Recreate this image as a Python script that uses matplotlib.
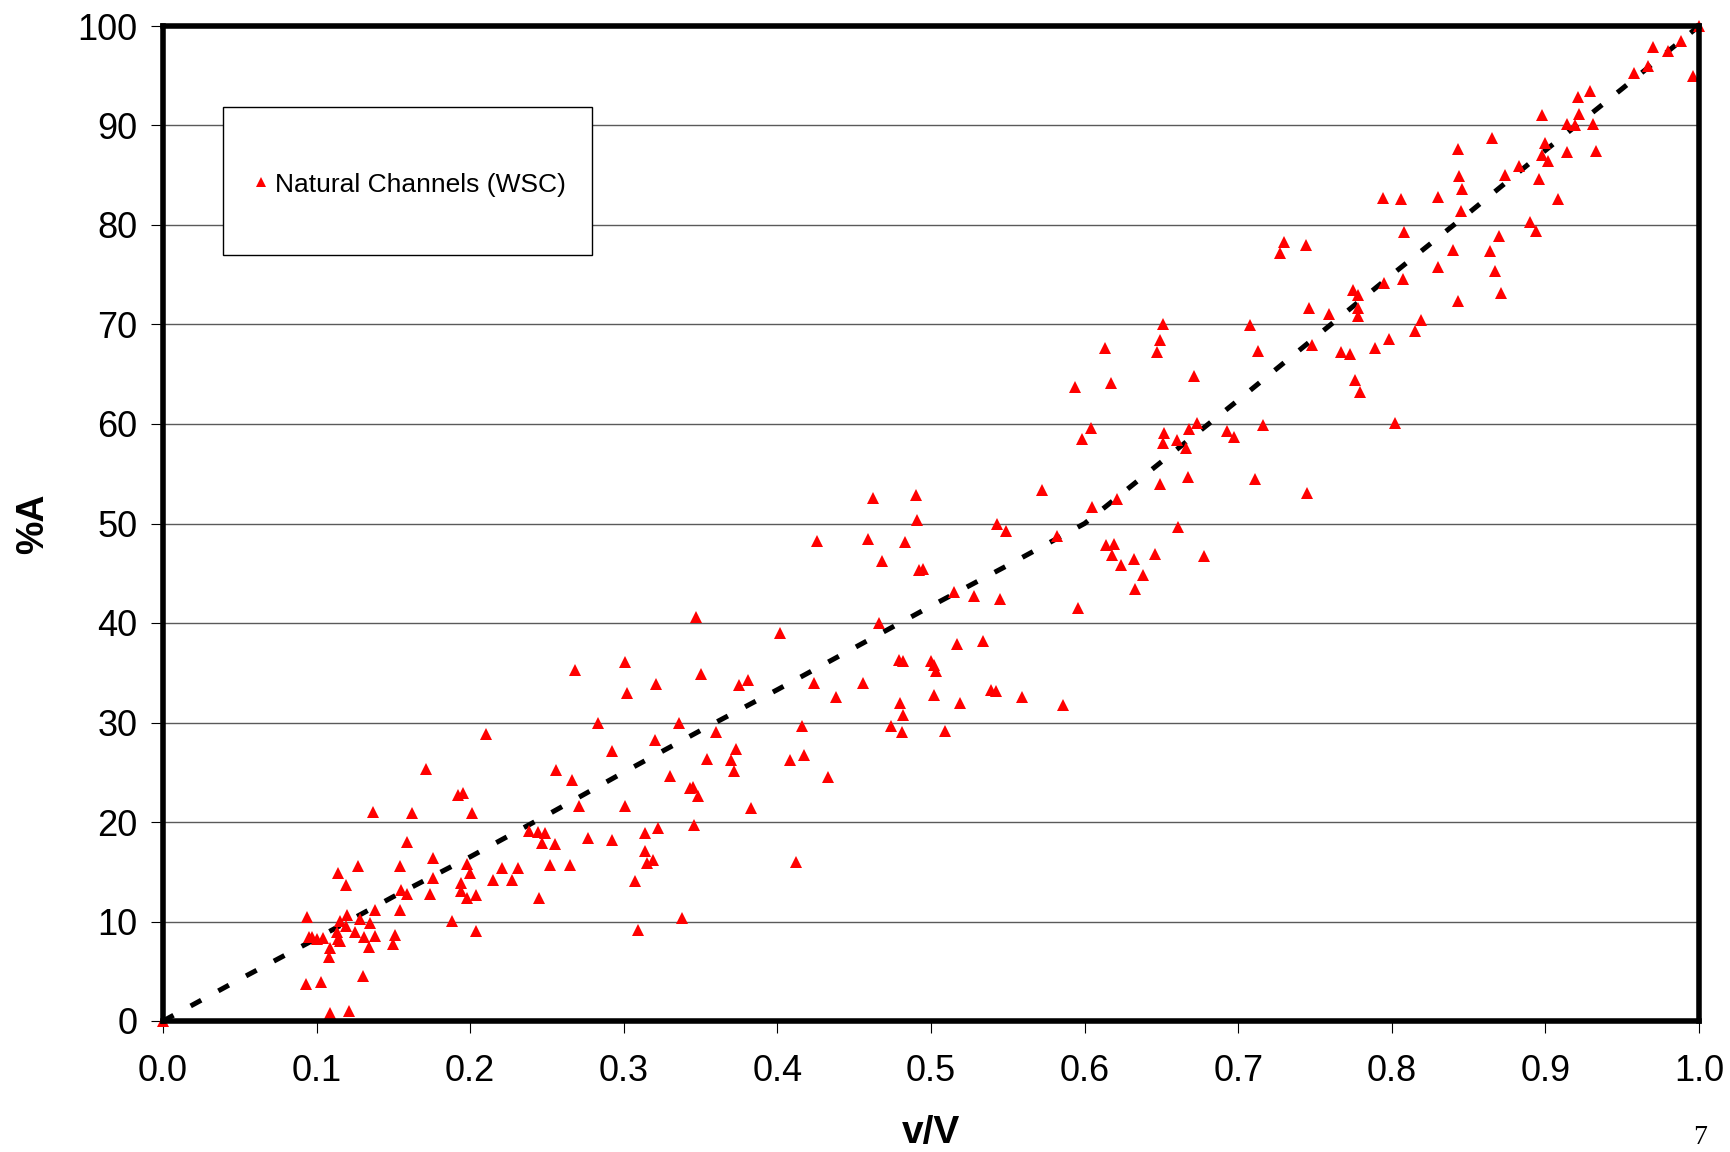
#Scatter of %A against v/V for natural channels (WSC) with the dashed trend curve.

import numpy as np
import matplotlib
matplotlib.use('Agg')
import matplotlib.pyplot as plt
from matplotlib.patches import Rectangle

plt.rcParams['font.family'] = ['Liberation Sans', 'DejaVu Sans']

# measured points (v/V, %A)
v_ratio = [
    0.0, 0.137, 0.162, 0.159, 0.127, 0.114, 0.154, 0.119, 0.155, 0.159,
    0.138, 0.154, 0.120, 0.094, 0.115, 0.128, 0.135, 0.119, 0.125, 0.113,
    0.095, 0.097, 0.100, 0.104, 0.114, 0.131, 0.138, 0.151, 0.150, 0.134,
    0.115, 0.109, 0.108, 0.130, 0.093, 0.103, 0.109, 0.121,
    0.268, 0.283, 0.292, 0.210, 0.171, 0.256, 0.266, 0.195, 0.192, 0.271,
    0.201, 0.238, 0.244, 0.249, 0.247, 0.255, 0.277, 0.292, 0.176, 0.198,
    0.200, 0.221, 0.231, 0.252, 0.265, 0.176, 0.194, 0.215, 0.227, 0.174,
    0.194, 0.198, 0.204, 0.245, 0.188, 0.204,
    0.347, 0.402, 0.301, 0.350, 0.321, 0.375, 0.381, 0.424, 0.302, 0.336,
    0.416, 0.360, 0.320, 0.373, 0.354, 0.370, 0.408, 0.417, 0.372, 0.330,
    0.343, 0.345, 0.348, 0.301, 0.383, 0.346, 0.322, 0.314, 0.314, 0.319,
    0.315, 0.412, 0.307, 0.338, 0.309,
    0.462, 0.490, 0.491, 0.543, 0.426, 0.459, 0.483, 0.468, 0.492, 0.495,
    0.515, 0.528, 0.545, 0.466, 0.517, 0.534, 0.479, 0.482, 0.500, 0.502,
    0.503, 0.456, 0.539, 0.542, 0.438, 0.480, 0.502, 0.519, 0.482, 0.474,
    0.481, 0.509, 0.433,
    0.572, 0.549, 0.582, 0.596, 0.559, 0.586,
    0.651, 0.708, 0.649, 0.647, 0.613, 0.713, 0.671, 0.617, 0.594, 0.604,
    0.598, 0.652, 0.651, 0.660, 0.668, 0.673, 0.666, 0.693, 0.697, 0.716,
    0.667, 0.649, 0.711, 0.621, 0.605, 0.661, 0.614, 0.619, 0.618, 0.632,
    0.646, 0.678, 0.624, 0.638, 0.633,
    0.730, 0.727, 0.744, 0.746, 0.759, 0.775, 0.778, 0.778, 0.778, 0.795,
    0.748, 0.767, 0.773, 0.789, 0.798, 0.776, 0.779, 0.802, 0.745,
    0.843, 0.844, 0.846, 0.845, 0.794, 0.806, 0.830, 0.874, 0.883, 0.898,
    0.902, 0.896, 0.908, 0.808, 0.890, 0.894, 0.870, 0.840, 0.864, 0.830,
    0.867, 0.807, 0.871, 0.843, 0.819, 0.815, 0.865,
    1.0, 0.988, 0.980, 0.970, 0.967, 0.958, 0.996, 0.921, 0.929, 0.898,
    0.922, 0.914, 0.919, 0.931, 0.900, 0.914, 0.933,
]
pct_area = [
    0.0, 21.0, 20.9, 18.0, 15.6, 14.9, 15.6, 13.7, 13.2, 12.8,
    11.2, 11.2, 10.7, 10.5, 10.1, 10.3, 9.8, 9.5, 8.9, 8.9,
    8.4, 8.4, 8.2, 8.3, 8.2, 8.4, 8.5, 8.6, 7.7, 7.4,
    8.0, 7.3, 6.4, 4.5, 3.7, 3.9, 0.8, 1.0,
    35.3, 30.0, 27.1, 28.8, 25.3, 25.2, 24.2, 22.9, 22.7, 21.6,
    20.9, 19.1, 19.0, 18.9, 17.9, 17.8, 18.4, 18.2, 16.4, 15.8,
    14.9, 15.4, 15.4, 15.7, 15.7, 14.4, 13.9, 14.2, 14.2, 12.8,
    13.1, 12.4, 12.7, 12.4, 10.1, 9.0,
    40.6, 39.0, 36.1, 34.9, 33.9, 33.8, 34.3, 34.0, 33.0, 30.0,
    29.6, 29.0, 28.2, 27.3, 26.3, 26.2, 26.2, 26.7, 25.1, 24.6,
    23.4, 23.5, 22.6, 21.6, 21.4, 19.7, 19.4, 18.9, 17.1, 16.2,
    15.9, 16.0, 14.1, 10.4, 9.1,
    52.6, 52.9, 50.4, 49.9, 48.2, 48.4, 48.1, 46.2, 45.3, 45.4,
    43.1, 42.7, 42.4, 40.0, 37.9, 38.2, 36.3, 36.2, 36.2, 35.8,
    35.2, 34.0, 33.3, 33.2, 32.6, 32.0, 32.8, 32.0, 30.8, 29.6,
    29.0, 29.1, 24.5,
    53.4, 49.2, 48.7, 41.5, 32.6, 31.8,
    70.1, 69.9, 68.4, 67.2, 67.6, 67.3, 64.8, 64.1, 63.7, 59.6,
    58.5, 59.1, 58.1, 58.4, 59.5, 60.1, 57.6, 59.3, 58.7, 59.9,
    54.7, 54.0, 54.5, 52.5, 51.7, 49.6, 47.8, 47.9, 46.8, 46.4,
    46.9, 46.7, 45.8, 44.8, 43.4,
    78.3, 77.2, 78.0, 71.7, 71.1, 73.5, 73.0, 71.7, 70.9, 74.2,
    67.9, 67.2, 67.0, 67.6, 68.5, 64.4, 63.2, 60.1, 53.1,
    87.6, 84.9, 83.6, 81.4, 82.7, 82.6, 82.8, 85.0, 85.9, 87.0,
    86.4, 84.6, 82.6, 79.3, 80.3, 79.4, 78.9, 77.5, 77.4, 75.8,
    75.4, 74.6, 73.2, 72.4, 70.5, 69.3, 88.7,
    100.0, 98.5, 97.5, 97.9, 96.0, 95.3, 95.0, 92.9, 93.5, 91.1,
    91.2, 90.2, 90.0, 90.2, 88.2, 87.3, 87.4,
]

# dashed trend curve
trend_v = [0.0, 0.05, 0.1, 0.15, 0.2, 0.25, 0.3, 0.35, 0.4, 0.45, 0.5,
           0.55, 0.6, 0.65, 0.7, 0.75, 0.8, 0.85, 0.9, 0.95, 1.0]
trend_a = [0.0, 4.2, 8.3, 12.5, 16.5, 20.7, 25.0, 29.2, 33.3, 37.5, 41.7,
           45.8, 50.0, 56.2, 62.4, 68.7, 75.0, 81.2, 87.5, 93.7, 100.0]

x_ticks = np.round(np.arange(0, 1.01, 0.1), 1)
y_ticks = np.arange(0, 101, 10)

fig = plt.figure(figsize=(17.3, 11.52), dpi=100)
ax = fig.add_axes([163 / 1730, 1 - 1021 / 1152, 1536 / 1730, 995 / 1152])

for y in y_ticks[1:-1]:
    ax.axhline(y, color='#5a5a5a', lw=1.0, zorder=1)

ax.plot(trend_v, trend_a, color='black', lw=3.6, dashes=(2.4, 3.9),
        dash_capstyle='butt', zorder=3)
pts, = ax.plot(v_ratio, pct_area, linestyle='none', marker='^', ms=8.5,
               color='red', mec='red', mew=0, zorder=4, clip_on=False,
               label='Natural Channels (WSC)')

ax.set_xlim(0, 1)
ax.set_ylim(0, 100)
ax.set_xticks(x_ticks)
ax.set_xticklabels(['{0:.1f}'.format(t) for t in x_ticks])
ax.set_yticks(y_ticks)
ax.tick_params(axis='x', direction='out', length=8.6, width=0.8, pad=15, labelsize=26)
ax.tick_params(axis='y', direction='out', length=8.6, width=0.8, pad=10, labelsize=26)
for s in ax.spines.values():
    s.set_linewidth(4)
    s.set_zorder(5)

ax.set_xlabel('v/V', fontsize=28, fontweight='bold', va='center')
ax.xaxis.set_label_coords(0.5, (1021 - 1133) / 995)
ax.set_ylabel('%A', fontsize=27, fontweight='bold', va='center')
ax.yaxis.set_label_coords((33 - 163) / 1536, 0.5)

# legend box
ax.add_patch(Rectangle((0.039, 0.7698), 0.240, 0.1488, transform=ax.transAxes,
                       facecolor='white', edgecolor='black', lw=1.0, zorder=6))
leg = ax.legend(handles=[pts], loc='center left', bbox_to_anchor=(0.0455, 0.8405),
                frameon=False, fontsize=19, handlelength=1.1, handletextpad=0.0,
                markerscale=0.8, borderpad=0)
leg.set_zorder(7)

fig.text(1700 / 1730, 1 - 1138 / 1152, '7', fontsize=20, family='Liberation Serif',
         ha='center', va='center')

fig.savefig('out.png', dpi=100)
